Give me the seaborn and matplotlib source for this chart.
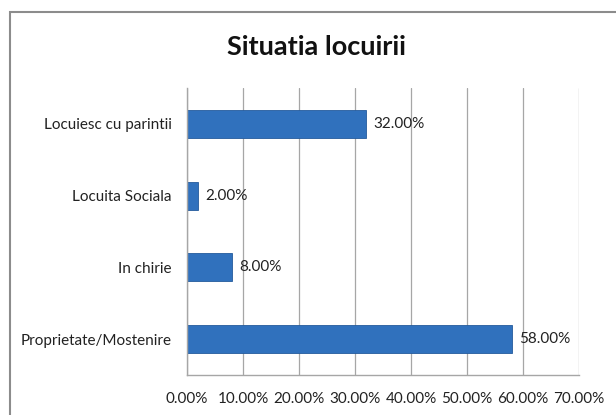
import numpy as np
import pandas as pd
import seaborn as sns
import matplotlib.pyplot as plt
from matplotlib.patches import Rectangle
from matplotlib.ticker import FuncFormatter, FixedLocator

# ----------------- Data -----------------
categories = ["Locuiesc cu parintii", "Locuita Sociala", "In chirie", "Proprietate/Mostenire"]
values = [32.0, 2.0, 8.0, 58.0]
title = "Situatia locuirii"

df = pd.DataFrame({"categorie": categories, "procent": values})

# ----------------- Style -----------------
sns.set_style("white")
plt.rcParams['font.family'] = ['Lato', 'DejaVu Sans']
grey = "#a6a6a6"

fig = plt.figure(figsize=(6.16, 4.15), dpi=100)
ax = fig.add_axes([187 / 616, 40 / 415, 392 / 616, 287 / 415])

sns.barplot(data=df, x="procent", y="categorie", order=categories, orient="h",
            color="#3071BD", width=0.39, saturation=1, ax=ax,
            edgecolor="#245A9C", linewidth=0.6)

# value labels
for i, v in enumerate(values):
    ax.text(v + 1.3, i, f"{v:.2f}%", va="center", ha="left", fontsize=11, color="#222222")

# ----------------- Axes -----------------
ax.set_xlim(0, 70)
ax.set_ylim(3.5, -0.5)
ax.set_xticks(np.arange(0, 71, 10))
ax.xaxis.set_major_formatter(FuncFormatter(lambda x, _: f"{x:.2f}%"))
ax.set_xlabel("")
ax.set_ylabel("")

ax.grid(axis="x", color=grey, linewidth=0.9)
ax.set_axisbelow(True)
for s in ["top", "right"]:
    ax.spines[s].set_visible(False)
for s in ["left", "bottom"]:
    ax.spines[s].set_color(grey)
    ax.spines[s].set_linewidth(1.0)

ax.tick_params(axis="x", length=6, color=grey, width=1.0, labelsize=11, pad=6, labelcolor="#222222")
ax.tick_params(axis="y", which="major", length=0, labelsize=11, pad=11, labelcolor="#222222")
ax.yaxis.set_minor_locator(FixedLocator([-0.5, 0.5, 1.5, 2.5, 3.5]))
ax.tick_params(axis="y", which="minor", length=6, color=grey, width=1.0)

# ----------------- Title & frame -----------------
fig.text(316 / 616, 1 - 47 / 415, title, ha="center", va="center",
         fontsize=19.5, fontweight="bold", color="#111111")
fig.patches.append(Rectangle((10 / 616, -0.1), 1.2, 1 - 12 / 415 + 0.1,
                             transform=fig.transFigure, fill=False,
                             edgecolor="#8c8c8c", linewidth=1.5))

fig.savefig("out.png", dpi=100)
